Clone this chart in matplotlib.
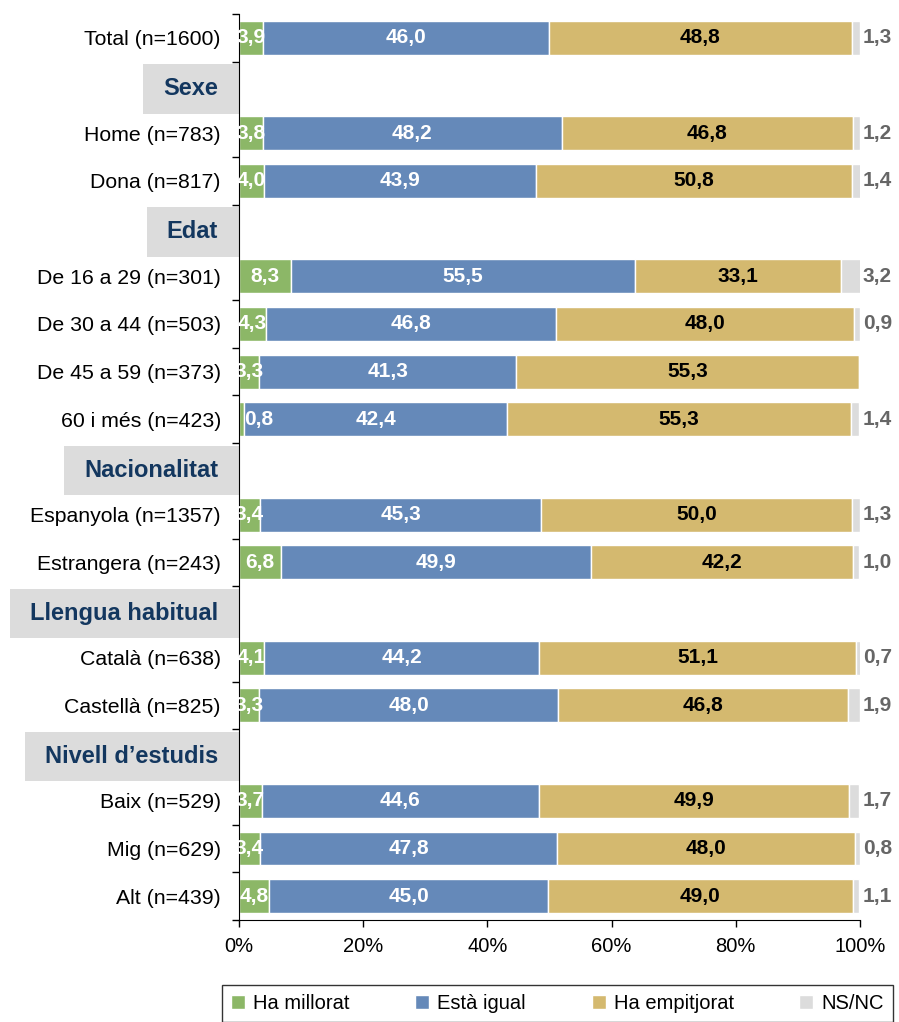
import numpy as np
import matplotlib.pyplot as plt
from matplotlib.patches import Rectangle
from matplotlib.transforms import blended_transform_factory

plt.rcParams['font.family'] = ['Liberation Sans', 'DejaVu Sans']

# rows top to bottom; group header rows have no values
rows = ["Total (n=1600)", "Sexe", "Home (n=783)", "Dona (n=817)", "Edat",
        "De 16 a 29 (n=301)", "De 30 a 44 (n=503)", "De 45 a 59 (n=373)", "60 i més (n=423)",
        "Nacionalitat", "Espanyola (n=1357)", "Estrangera (n=243)",
        "Llengua habitual", "Català (n=638)", "Castellà (n=825)",
        "Nivell d\u2019estudis", "Baix (n=529)", "Mig (n=629)", "Alt (n=439)"]
headers = ["Sexe", "Edat", "Nacionalitat", "Llengua habitual", "Nivell d\u2019estudis"]

millorat   = [3.9, 0, 3.8, 4.0, 0, 8.3, 4.3, 3.3, 0.8, 0, 3.4, 6.8, 0, 4.1, 3.3, 0, 3.7, 3.4, 4.8]
igual      = [46.0, 0, 48.2, 43.9, 0, 55.5, 46.8, 41.3, 42.4, 0, 45.3, 49.9, 0, 44.2, 48.0, 0, 44.6, 47.8, 45.0]
empitjorat = [48.8, 0, 46.8, 50.8, 0, 33.1, 48.0, 55.3, 55.3, 0, 50.0, 42.2, 0, 51.1, 46.8, 0, 49.9, 48.0, 49.0]
nsnc       = [1.3, 0, 1.2, 1.4, 0, 3.2, 0.9, 0.0, 1.4, 0, 1.3, 1.0, 0, 0.7, 1.9, 0, 1.7, 0.8, 1.1]

series = ["Ha millorat", "Està igual", "Ha empitjorat", "NS/NC"]
colors = ["#8cb767", "#6589b9", "#d4b96f", "#dcdcdc"]
label_colors = ["white", "white", "black", "#666666"]

fig = plt.figure(figsize=(8.99, 10.22), dpi=100)
ax = fig.add_axes([239/899, 1-920/1022, (860-239)/899, (920-14)/1022])

y = np.arange(len(rows))
is_data = np.array([r not in headers for r in rows])
vals = [np.array(millorat), np.array(igual), np.array(empitjorat), np.array(nsnc)]
left = np.zeros(len(rows))
for i, (v, c, lc) in enumerate(zip(vals, colors, label_colors)):
    ax.barh(y[is_data], v[is_data], left=left[is_data], height=0.71, color=c,
            edgecolor='white', linewidth=1, label=series[i], zorder=2)
    for yy, vv, ll, d in zip(y, v, left, is_data):
        if not d or vv == 0:
            continue
        txt = f"{vv:.1f}".replace('.', ',')
        if i == 3:
            ax.annotate(txt, (100, yy), xytext=(2, 0), textcoords='offset points',
                        ha='left', va='center', fontsize=15, fontweight='bold',
                        color=lc, annotation_clip=False)
        else:
            xc = ll + vv/2
            if vv < 2:  # tiny segment: label pushed inside the plot
                xc = 3.2
            ax.text(xc, yy, txt, ha='center', va='center', fontsize=15,
                    fontweight='bold', color=lc, zorder=4)
    left = left + v

ax.set_xlim(0, 100)
ax.set_ylim(len(rows) - 0.5, -0.5)
ax.set_xticks(np.arange(0, 101, 20))
ax.set_xticklabels([f"{t}%" for t in range(0, 101, 20)], fontsize=14.5)
ax.tick_params(axis='x', length=5, width=1, pad=7)
ax.set_yticks(y)
ax.set_yticklabels([r if d else "" for r, d in zip(rows, is_data)], fontsize=15.3)
ax.tick_params(axis='y', which='major', length=0, pad=13)
ax.set_yticks(np.arange(-0.5, len(rows), 1), minor=True)
ax.tick_params(axis='y', which='minor', length=5, width=1)
for s in ['top', 'right']:
    ax.spines[s].set_visible(False)

# group header boxes
fig.canvas.draw()
trans = blended_transform_factory(ax.transAxes, ax.transData)
for yy, r in zip(y, rows):
    if r not in headers:
        continue
    yc = yy + 0.07
    t = ax.annotate(r, (0, yc), xycoords=trans, xytext=(-15, 0), textcoords='offset points',
                    ha='right', va='center', fontsize=17, fontweight='bold',
                    color='#13375f', zorder=5, annotation_clip=False)
    bb = t.get_window_extent(fig.canvas.get_renderer())
    x_left = ax.transAxes.inverted().transform((bb.x0 - 20, 0))[0]
    ax.add_patch(Rectangle((x_left, yc - 0.52), -x_left, 1.04, transform=trans,
                           facecolor='#dcdcdc', edgecolor='none', clip_on=False, zorder=2.2))

leg = fig.legend(loc='upper left', bbox_to_anchor=(222/899, 1-985/1022, (893-222)/899, 0),
                 mode='expand', ncol=4, fontsize=14.5, frameon=True, fancybox=False,
                 edgecolor='black', handlelength=0.7, handleheight=0.7, handletextpad=0.4,
                 borderaxespad=0, borderpad=0.45)
leg.get_frame().set_linewidth(1)

fig.savefig("out.png", dpi=100)
